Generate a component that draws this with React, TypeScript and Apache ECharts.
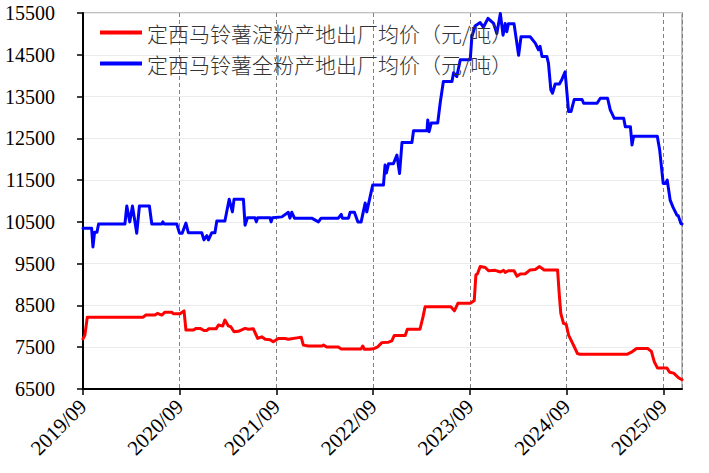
import React, { useEffect, useRef } from "react";
import * as echarts from "echarts";

const xTickLabels = ["2019/09", "2020/09", "2021/09", "2022/09", "2023/09", "2024/09", "2025/09"];

const seriesNames = [
  "定西马铃薯淀粉产地出厂均价（元/吨）",
  "定西马铃薯全粉产地出厂均价（元/吨）",
];

const starchDates = [
  "2019-09-01", "2019-09-08", "2019-09-17", "2020-04-15", "2020-04-25", "2020-05-29", "2020-06-08", "2020-06-24",
  "2020-07-06", "2020-08-01", "2020-08-07", "2020-09-02", "2020-09-17", "2020-09-24", "2020-10-21", "2020-11-02",
  "2020-11-17", "2020-12-01", "2020-12-12", "2020-12-18", "2021-01-16", "2021-01-25", "2021-02-11", "2021-02-19",
  "2021-03-02", "2021-03-11", "2021-03-23", "2021-04-09", "2021-05-04", "2021-05-16", "2021-06-05", "2021-06-21",
  "2021-07-06", "2021-07-19", "2021-08-07", "2021-08-19", "2021-09-08", "2021-10-03", "2021-10-15", "2021-11-23",
  "2021-12-03", "2021-12-11", "2021-12-30", "2022-02-20", "2022-02-26", "2022-03-08", "2022-04-21", "2022-05-02",
  "2022-07-16", "2022-07-22", "2022-07-28", "2022-08-19", "2022-09-05", "2022-09-18", "2022-10-03", "2022-10-28",
  "2022-11-10", "2022-11-19", "2022-12-30", "2023-01-08", "2023-02-25", "2023-03-06", "2023-03-14", "2023-06-20",
  "2023-07-03", "2023-07-16", "2023-09-02", "2023-09-17", "2023-09-23", "2023-09-29", "2023-10-09", "2023-10-28",
  "2023-11-10", "2023-12-05", "2023-12-24", "2024-01-06", "2024-01-12", "2024-01-24", "2024-02-15", "2024-02-26",
  "2024-03-08", "2024-03-27", "2024-04-15", "2024-05-04", "2024-05-20", "2024-06-07", "2024-07-27", "2024-08-03",
  "2024-08-09", "2024-08-19", "2024-08-29", "2024-09-08", "2024-09-23", "2024-10-11", "2024-10-21", "2025-04-15",
  "2025-05-04", "2025-05-21", "2025-07-02", "2025-07-16", "2025-07-27", "2025-08-09", "2025-09-14", "2025-09-24",
  "2025-10-09", "2025-10-27", "2025-11-10",
];
const starchValues = [
  7700, 7790, 8220, 8220, 8270, 8270, 8310, 8270,
  8340, 8340, 8300, 8300, 8370, 7910, 7910, 7950,
  7950, 7900, 7900, 7940, 7940, 8030, 8010, 8150,
  8010, 7990, 7870, 7880, 7950, 7930, 7940, 7710,
  7750, 7690, 7680, 7630, 7710, 7710, 7690, 7730,
  7740, 7550, 7530, 7530, 7550, 7505, 7505, 7460,
  7460, 7530, 7450, 7450, 7470, 7510, 7610, 7620,
  7650, 7780, 7780, 7930, 7930, 8220, 8470, 8470,
  8370, 8550, 8550, 8620, 9230, 9260, 9430, 9410,
  9330, 9340, 9300, 9340, 9290, 9330, 9330, 9200,
  9250, 9260, 9350, 9360, 9430, 9350, 9350, 8790,
  8310, 8070, 8050, 7790, 7590, 7350, 7330, 7330,
  7390, 7470, 7470, 7400, 7150, 7000, 7000, 6900,
  6880, 6770, 6720,
];

const flourDates = [
  "2019-09-01", "2019-10-03", "2019-10-08", "2019-10-14", "2019-10-23", "2019-10-29", "2020-02-07", "2020-02-14",
  "2020-02-25", "2020-03-05", "2020-03-21", "2020-03-31", "2020-05-08", "2020-05-17", "2020-06-24", "2020-06-28",
  "2020-07-03", "2020-08-20", "2020-08-30", "2020-09-10", "2020-09-24", "2020-10-03", "2020-11-23", "2020-12-01",
  "2020-12-12", "2020-12-18", "2020-12-30", "2021-01-12", "2021-01-19", "2021-02-19", "2021-03-05", "2021-03-17",
  "2021-03-23", "2021-04-28", "2021-05-04", "2021-05-13", "2021-06-11", "2021-06-16", "2021-06-21", "2021-08-07",
  "2021-08-11", "2021-08-16", "2021-09-21", "2021-10-15", "2021-10-21", "2021-10-28", "2021-11-08", "2022-01-12",
  "2022-02-07", "2022-02-17", "2022-04-21", "2022-05-02", "2022-05-06", "2022-05-29", "2022-06-05", "2022-06-21",
  "2022-07-04", "2022-07-16", "2022-07-31", "2022-08-07", "2022-08-29", "2022-10-09", "2022-10-15", "2022-10-20",
  "2022-10-28", "2022-11-16", "2022-11-29", "2022-12-09", "2022-12-18", "2023-01-25", "2023-01-31", "2023-03-21",
  "2023-03-24", "2023-03-29", "2023-04-07", "2023-05-01", "2023-05-10", "2023-05-22", "2023-06-24", "2023-06-30",
  "2023-07-12", "2023-07-25", "2023-09-02", "2023-09-08", "2023-09-20", "2023-10-09", "2023-10-21", "2023-11-08",
  "2023-11-29", "2023-12-11", "2023-12-24", "2024-01-04", "2024-01-12", "2024-01-18", "2024-01-24", "2024-02-15",
  "2024-03-02", "2024-03-11", "2024-04-15", "2024-05-04", "2024-05-16", "2024-05-22", "2024-05-29", "2024-06-17",
  "2024-06-23", "2024-07-02", "2024-07-08", "2024-07-18", "2024-08-04", "2024-08-13", "2024-08-25", "2024-09-08",
  "2024-09-17", "2024-09-29", "2024-10-28", "2024-11-04", "2024-12-24", "2025-01-06", "2025-02-03", "2025-02-13",
  "2025-02-28", "2025-04-03", "2025-04-09", "2025-04-28", "2025-05-04", "2025-05-10", "2025-08-08", "2025-08-17",
  "2025-08-30", "2025-09-08", "2025-09-15", "2025-09-26", "2025-10-06", "2025-10-21", "2025-10-26", "2025-11-06",
  "2025-11-10",
];
const flourValues = [
  10350, 10350, 9900, 10250, 10250, 10450, 10450, 10880,
  10500, 10880, 10230, 10880, 10880, 10450, 10450, 10500,
  10450, 10450, 10230, 10230, 10470, 10240, 10240, 10070,
  10170, 10070, 10240, 10240, 10520, 10520, 11040, 10740,
  11040, 11040, 10420, 10600, 10600, 10500, 10600, 10600,
  10500, 10600, 10620, 10730, 10590, 10730, 10590, 10590,
  10500, 10590, 10590, 10680, 10590, 10590, 10730, 10730,
  10500, 10500, 10950, 10740, 11380, 11380, 11860, 11670,
  11890, 11890, 12100, 11660, 12400, 12400, 12680, 12680,
  12940, 12660, 12870, 12870, 13340, 13860, 13860, 14070,
  13980, 14380, 14380, 14930, 15190, 15270, 15160, 15370,
  15250, 15010, 15490, 14970, 15250, 15050, 15240, 15240,
  14490, 14930, 14930, 14780, 14620, 14700, 14460, 14460,
  14300, 13660, 13580, 13800, 13800, 13910, 14090, 13140,
  13140, 13430, 13430, 13340, 13340, 13460, 13460, 13180,
  12980, 12980, 12780, 12780, 12340, 12550, 12550, 12220,
  11420, 11420, 11500, 11020, 10860, 10660, 10650, 10460,
  10450,
];

const startYear = 2019;
const startMonth = 9;
const endDate = "2025-11-10";

function monthsSinceStart(d: string): number {
  const [y, m, dd] = d.split("-").map(Number);
  return (y - startYear) * 12 + (m - startMonth) + (dd - 1) / 30;
}

function pairs(dates: string[], values: number[]) {
  return dates.map((d, i) => [monthsSinceStart(d), values[i]]);
}

const serif = "Liberation Serif";

export default function App() {
  const ref = useRef<HTMLDivElement>(null);
  useEffect(() => {
    if (!ref.current) return;
    const chart = echarts.init(ref.current, null, { renderer: "svg" });
    chart.setOption({
      animation: false,
      backgroundColor: "#ffffff",
      grid: {
        left: 83,
        right: 27,
        top: 13,
        bottom: 84,
        show: true,
        borderColor: "#bfbfbf",
        borderWidth: 2,
        backgroundColor: "transparent",
      },
      legend: {
        orient: "vertical",
        left: 100,
        top: 22,
        padding: 0,
        icon: "rect",
        itemWidth: 42,
        itemHeight: 4,
        itemGap: 10,
        data: seriesNames,
        textStyle: {
          fontFamily: "Noto Sans CJK SC",
          fontSize: 21,
          fontWeight: 300,
          color: "#333",
          lineHeight: 21,
        },
      },
      xAxis: {
        type: "value",
        min: 0,
        max: monthsSinceStart(endDate),
        interval: 12,
        axisLine: { show: true, lineStyle: { color: "#000", width: 2 } },
        axisTick: { show: true, length: 6, lineStyle: { color: "#000", width: 1.5 } },
        axisLabel: {
          rotate: 45,
          margin: 14,
          showMaxLabel: false,
          fontFamily: serif,
          fontSize: 21,
          color: "#000",
          formatter: (v: number) => {
            const idx = Math.round(v / 12);
            return Math.abs(v - idx * 12) < 1e-6 ? xTickLabels[idx] ?? "" : "";
          },
        },
        splitLine: { show: true, lineStyle: { color: "#808080", type: [4, 3], width: 1 } },
      },
      yAxis: {
        type: "value",
        min: 6500,
        max: 15500,
        interval: 1000,
        axisLine: { show: true, lineStyle: { color: "#000", width: 2 } },
        axisTick: { show: true, length: 6, lineStyle: { color: "#000", width: 1.5 } },
        axisLabel: {
          margin: 28,
          fontFamily: serif,
          fontSize: 20,
          color: "#000",
          formatter: (v: number) => String(v),
        },
        splitLine: { show: true, lineStyle: { color: "#ebebeb", width: 1 } },
      },
      series: [
        {
          name: seriesNames[0],
          type: "line",
          data: pairs(starchDates, starchValues),
          symbol: "none",
          showSymbol: false,
          color: "#ff0000",
          lineStyle: { width: 3, color: "#ff0000", join: "round", cap: "round" },
        },
        {
          name: seriesNames[1],
          type: "line",
          data: pairs(flourDates, flourValues),
          symbol: "none",
          showSymbol: false,
          color: "#0000ff",
          lineStyle: { width: 3, color: "#0000ff", join: "round", cap: "round" },
        },
      ],
    });
    return () => chart.dispose();
  }, []);
  return (
    <div
      ref={ref}
      style={{ position: "fixed", left: 0, top: 0, width: 709, height: 473, background: "#fff" }}
    />
  );
}
